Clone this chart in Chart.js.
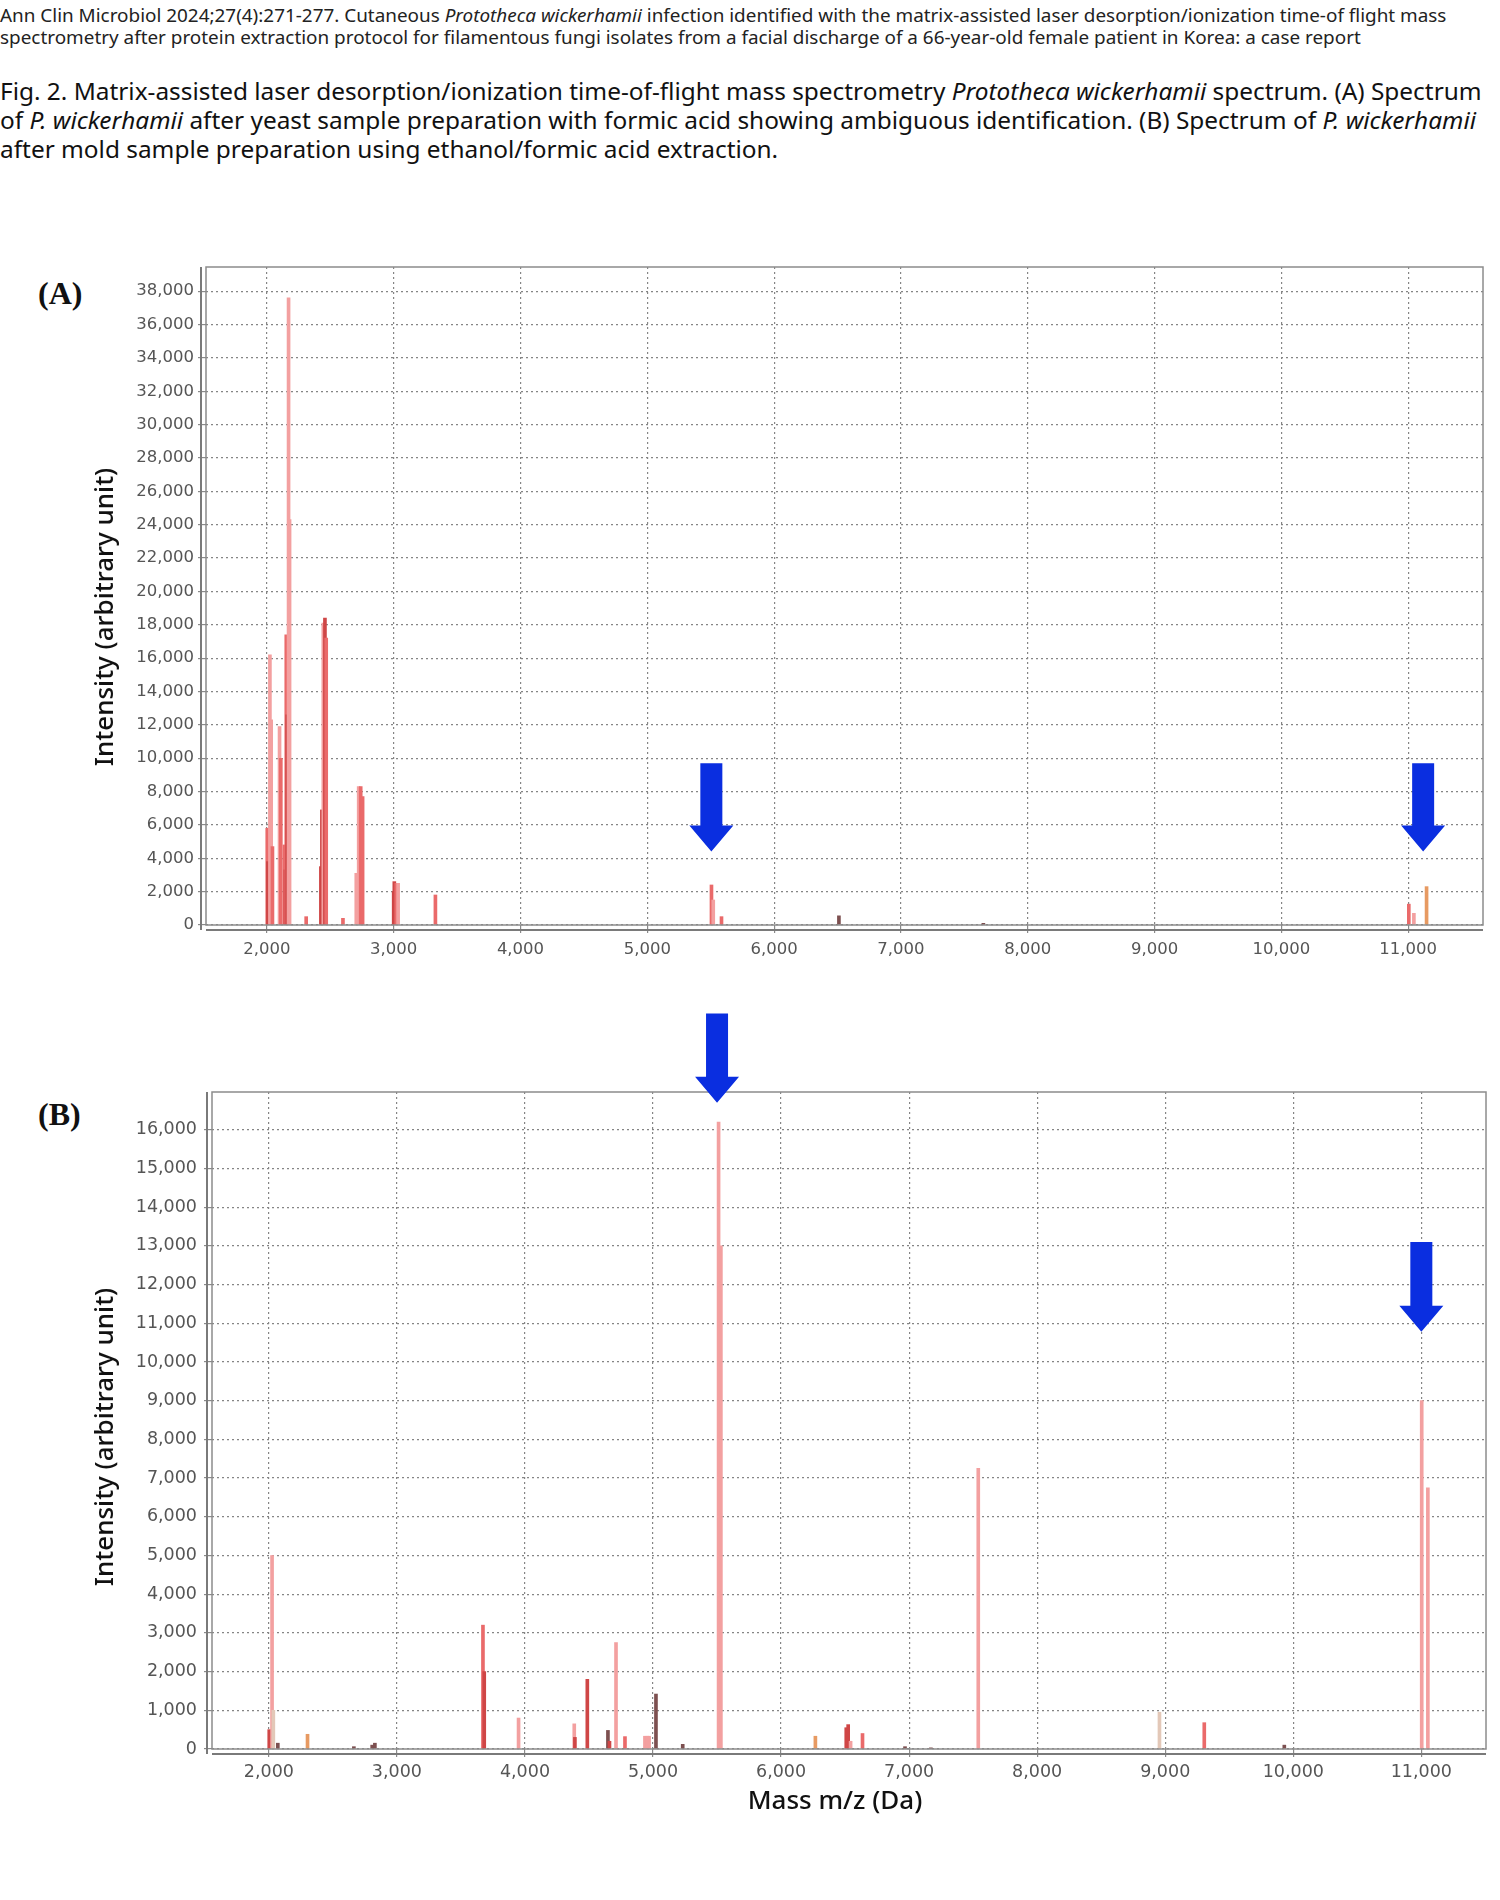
<!DOCTYPE html>
<html>
<head>
<meta charset="utf-8">
<script src="https://cdn.jsdelivr.net/npm/chart.js@4.4.1/dist/chart.umd.min.js"></script>
<style>
body{margin:0;width:1500px;height:1900px;background:#fff;position:relative;font-family:"Noto Sans",sans-serif;color:#111;}
.head{position:absolute;left:0;top:4px;font-size:18.9px;line-height:22px;white-space:nowrap;color:#222;}
.caption{position:absolute;left:0;top:76px;font-size:24.4px;line-height:29px;white-space:nowrap;}
.panel{position:absolute;left:38px;font-family:"Liberation Serif",serif;font-weight:bold;font-size:32px;line-height:32px;}
.box{position:absolute;left:0;width:1500px;}
</style>
</head>
<body>
<div class="head">Ann Clin Microbiol 2024;27(4):271-277. Cutaneous <i>Prototheca wickerhamii</i> infection identified with the matrix-assisted laser desorption/ionization time-of flight mass<br>spectrometry after protein extraction protocol for filamentous fungi isolates from a facial discharge of a 66-year-old female patient in Korea: a case report</div>
<div class="caption">Fig. 2. Matrix-assisted laser desorption/ionization time-of-flight mass spectrometry <i>Prototheca wickerhamii</i> spectrum. (A) Spectrum<br>of <i>P. wickerhamii</i> after yeast sample preparation with formic acid showing ambiguous identification. (B) Spectrum of <i>P. wickerhamii</i><br>after mold sample preparation using ethanol/formic acid extraction.</div>

<div class="panel" style="top:277px">(A)</div>
<div class="panel" style="top:1098px">(B)</div>

<div class="box" style="top:240px;height:740px"><canvas id="chartA" width="1500" height="740"></canvas></div>
<div class="box" style="top:990px;height:840px"><canvas id="chartB" width="1500" height="840"></canvas></div>

<script>
// ---- spectrum (A): yeast preparation ----
const massA = [2003, 2008, 2024, 2034, 2044, 2100, 2110, 2139, 2146, 2153, 2160, 2171, 2179,
  2310, 2426, 2434, 2445, 2458, 2468, 2600, 2705, 2724, 2740, 2755,
  3000, 3005, 3020, 3035, 3329, 5506, 5520, 5585, 6511, 7650, 11005, 11045, 11145];
const intensityA = [5800, 3800, 16200, 12300, 4700, 11900, 10000, 4800, 3300, 17400, 12600, 37600, 24300,
  500, 3500, 6900, 18100, 18400, 17200, 400, 3100, 8300, 8300, 7700,
  2000, 2600, 2500, 2500, 1800, 2400, 1500, 500, 550, 100, 1250, 700, 2300];
const toneA = ['m', 'd', 'l', 'l', 'm', 'l', 'm', 'm', 'd', 'm', 'd', 'l', 'l',
  'm', 'd', 'd', 'l', 'd', 'm', 'm', 'l', 'l', 'm', 'm',
  'd', 'd', 'm', 'l', 'm', 'm', 'l', 'm', 'g', 'g', 'm', 'l', 'o'];

// ---- spectrum (B): mold preparation ----
const massB = [2003, 2025, 2035, 2070, 2302, 2664, 2807, 2828, 3672, 3682, 3950, 4385, 4390,
  4487, 4648, 4660, 4711, 4781, 4937, 4956, 4969, 5023, 5232, 5512, 5530,
  6268, 6509, 6524, 6543, 6636, 6968, 7170, 7540, 8955, 9305, 9930, 11003, 11051];
const intensityB = [500, 5000, 1000, 150, 380, 60, 100, 150, 3200, 2000, 800, 650, 300,
  1800, 480, 200, 2750, 320, 330, 330, 330, 1420, 120, 16200, 13000,
  330, 550, 630, 200, 400, 60, 30, 7250, 950, 680, 100, 9000, 6750];
const toneB = ['d', 'l', 'b', 'g', 'o', 'g', 'g', 'g', 'm', 'd', 'l', 'l', 'd',
  'd', 'g', 'd', 'l', 'm', 'l', 'l', 'l', 'g', 'g', 'l', 'l',
  'o', 'd', 'd', 'l', 'm', 'g', 'g', 'l', 'b', 'm', 'g', 'l', 'l'];

// axis ticks
const xTicks = [2000, 3000, 4000, 5000, 6000, 7000, 8000, 9000, 10000, 11000];
const yTicksA = [0, 2000, 4000, 6000, 8000, 10000, 12000, 14000, 16000, 18000, 20000,
  22000, 24000, 26000, 28000, 30000, 32000, 34000, 36000, 38000];
const yTicksB = [0, 1000, 2000, 3000, 4000, 5000, 6000, 7000, 8000, 9000, 10000,
  11000, 12000, 13000, 14000, 15000, 16000];

// blue arrows (mass, top intensity, tip intensity)
const arrowsA = [{mass: 5505, top: 9700, tip: 4400}, {mass: 11118, top: 9700, tip: 4400}];
const arrowsB = [{mass: 5500, top: 19000, tip: 16700}, {mass: 11000, top: 13100, tip: 10780}];

const tones = {l: '#f3a0a0', m: '#ea6a6a', d: '#cf4646', o: '#e79a62', g: '#7d5050', b: '#e3c8b8'};
const titleFont = '500 26px "Noto Sans"';

// рамка графика, смещённые оси, подписи осей и стрелки
const framePlugin = {
  id: 'frame',
  afterDraw(chart, args, opts) {
    const ctx = chart.ctx, a = chart.chartArea, sx = chart.scales.x, sy = chart.scales.y;
    ctx.save();
    ctx.strokeStyle = '#8c8c8c';
    ctx.lineWidth = 1.5;
    ctx.strokeRect(a.left, a.top, a.right - a.left, a.bottom - a.top);
    ctx.strokeStyle = '#7a7a7a';
    ctx.lineWidth = 2;
    ctx.beginPath();
    ctx.moveTo(a.left - 5, a.top);
    ctx.lineTo(a.left - 5, a.bottom + 5);
    ctx.moveTo(a.left, a.bottom + 5);
    ctx.lineTo(a.right, a.bottom + 5);
    ctx.stroke();

    // подписи осей
    ctx.fillStyle = '#111';
    ctx.font = titleFont;
    ctx.textAlign = 'center';
    ctx.textBaseline = 'middle';
    ctx.save();
    ctx.translate(106, opts.yTitleY);
    ctx.rotate(-Math.PI / 2);
    ctx.fillText('Intensity (arbitrary unit)', 0, 0);
    ctx.restore();
    if (opts.xTitle) {
      ctx.fillText(opts.xTitle, opts.xTitleX, opts.xTitleY);
    }

    ctx.fillStyle = '#0a2ee0';
    (opts.arrows || []).forEach(function (ar) {
      const x = sx.getPixelForValue(ar.mass);
      const y0 = sy.getPixelForValue(ar.top);
      const y1 = sy.getPixelForValue(ar.tip);
      const head = 26;
      ctx.beginPath();
      ctx.moveTo(x - 11, y0);
      ctx.lineTo(x + 11, y0);
      ctx.lineTo(x + 11, y1 - head);
      ctx.lineTo(x + 22, y1 - head);
      ctx.lineTo(x, y1);
      ctx.lineTo(x - 22, y1 - head);
      ctx.lineTo(x - 11, y1 - head);
      ctx.closePath();
      ctx.fill();
    });
    ctx.restore();
  }
};

function fmt(v) {
  return Number(v).toLocaleString('en-US');
}

function makeChart(id, mass, intensity, tone, cfg) {
  return new Chart(document.getElementById(id), {
    type: 'bar',
    data: {
      datasets: [{
        data: mass.map(function (m, i) { return {x: m, y: intensity[i]}; }),
        backgroundColor: tone.map(function (t) { return tones[t]; }),
        borderWidth: 0,
        barThickness: 3
      }]
    },
    plugins: [framePlugin],
    options: {
      responsive: false,
      animation: false,
      events: [],
      layout: {padding: {top: cfg.padTop, right: cfg.padRight, left: 0, bottom: 0}},
      plugins: {
        legend: {display: false},
        tooltip: {enabled: false},
        frame: {arrows: cfg.arrows, yTitleY: cfg.yTitleY, xTitle: cfg.xTitle, xTitleX: cfg.xTitleX, xTitleY: cfg.xTitleY}
      },
      scales: {
        x: {
          type: 'linear',
          min: cfg.xMin,
          max: cfg.xMax,
          offset: false,
          afterBuildTicks: function (s) { s.ticks = xTicks.map(function (v) { return {value: v}; }); },
          afterFit: function (s) { s.height = cfg.xHeight; },
          border: {display: false, dash: [2, 3]},
          grid: {
            offset: false,
            color: '#858585',
            lineWidth: 1.2,
            tickLength: 8,
            tickColor: '#8a8a8a',
            tickBorderDash: []
          },
          ticks: {
            padding: cfg.xPad,
            color: '#555',
            maxRotation: 0,
            font: {family: 'DejaVu Sans', size: cfg.tickSize},
            callback: fmt
          }
        },
        y: {
          min: 0,
          max: cfg.yMax,
          afterBuildTicks: function (s) { s.ticks = cfg.yTicks.map(function (v) { return {value: v}; }); },
          afterFit: function (s) { s.width = cfg.yWidth; },
          border: {display: false, dash: [2, 3]},
          grid: {
            color: '#858585',
            lineWidth: 1.2,
            tickLength: 8,
            tickColor: '#8a8a8a',
            tickBorderDash: []
          },
          ticks: {
            padding: cfg.yPad,
            color: '#555',
            font: {family: 'DejaVu Sans', size: cfg.tickSize},
            callback: fmt
          }
        }
      }
    }
  });
}

makeChart('chartA', massA, intensityA, toneA, {
  xMin: 1520, xMax: 11590, yMax: 39450, yTicks: yTicksA,
  padTop: 27, padRight: 17, xHeight: 55, yWidth: 206,
  xPad: 7, yPad: 4, tickSize: 16.5, arrows: arrowsA,
  yTitleY: 377
});

makeChart('chartB', massB, intensityB, toneB, {
  xMin: 1556, xMax: 11505, yMax: 16975, yTicks: yTicksB,
  padTop: 102, padRight: 14, xHeight: 81, yWidth: 212,
  xPad: 5, yPad: 7, tickSize: 17.5, arrows: arrowsB,
  yTitleY: 447,
  xTitle: 'Mass m/z (Da)', xTitleX: 835, xTitleY: 812
});
</script>
</body>
</html>
